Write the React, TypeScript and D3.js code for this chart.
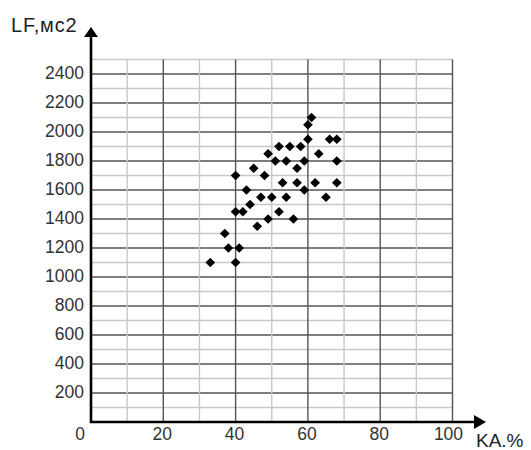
import React from "react";
import * as d3 from "d3";

const kaValues = [61, 60, 60, 66, 68, 52, 55, 58, 49, 63, 51, 54, 59, 68, 45, 57, 40, 48, 53, 57, 62, 68, 43, 59, 47, 50, 54, 65, 44, 40, 42, 52, 49, 56, 46, 37, 38, 41, 33, 40];
const lfValues = [2100, 2050, 1950, 1950, 1950, 1900, 1900, 1900, 1850, 1850, 1800, 1800, 1800, 1800, 1750, 1750, 1700, 1700, 1650, 1650, 1650, 1650, 1600, 1600, 1550, 1550, 1550, 1550, 1500, 1450, 1450, 1450, 1400, 1400, 1350, 1300, 1200, 1200, 1100, 1100];
const yTicks = [200, 400, 600, 800, 1000, 1200, 1400, 1600, 1800, 2000, 2200, 2400];
const xTicks = [20, 40, 60, 80, 100];
const yLabel = "LF,мс2";
const xLabel = "KA.%";

export default function App() {
  const W = 531, H = 450;
  const x = d3.scaleLinear().domain([0, 100]).range([91, 452.5]);
  const y = d3.scaleLinear().domain([0, 2500]).range([422, 59.5]);
  const vLines = d3.range(10, 101, 10);
  const hLines = d3.range(100, 2501, 100);
  const font = "'Liberation Sans', Arial, sans-serif";
  const diamond = d3.symbol().type(d3.symbolDiamond2).size(60)();
  const x0 = x(0), y0 = y(0);
  return (
    <svg width={W} height={H} style={{ position: "absolute", left: 0, top: 0, background: "#fff" }}>
      <rect x={0} y={0} width={W} height={H} fill="#fff" />
      {hLines.map((v) => (
        <line key={"h" + v} x1={x0} x2={x(100)} y1={y(v)} y2={y(v)}
          stroke={v % 200 === 0 ? "#555" : "#c8c8c8"} strokeWidth={1.4} />
      ))}
      {vLines.map((v) => (
        <line key={"v" + v} x1={x(v)} x2={x(v)} y1={y0} y2={y(2500)}
          stroke={v % 20 === 0 ? "#555" : "#c8c8c8"} strokeWidth={1.4} />
      ))}
      {/* axes */}
      <line x1={x0} x2={x0} y1={y0 + 1} y2={36} stroke="#000" strokeWidth={2.6} />
      <path d={`M${x0},27 L${x0 - 7},37 L${x0 + 7},37 Z`} fill="#000" />
      <line x1={x0 - 1} x2={475} y1={y0} y2={y0} stroke="#000" strokeWidth={2.6} />
      <path d={`M486,${y0} L474,${y0 - 7} L474,${y0 + 7} Z`} fill="#000" />
      {yTicks.map((v) => (
        <text key={"yt" + v} x={84} y={y(v)} dy="0.3em" textAnchor="end"
          fontFamily={font} fontSize={17.5} fill="#333">{v}</text>
      ))}
      <text x={85} y={440} textAnchor="end" fontFamily={font} fontSize={17.5} fill="#333">0</text>
      {xTicks.map((v) => (
        <text key={"xt" + v} x={x(v) - (v === 100 ? 4 : 1)} y={440} textAnchor="middle"
          fontFamily={font} fontSize={17.5} fill="#333">{v}</text>
      ))}
      <text x={11} y={32} fontFamily={font} fontSize={20} letterSpacing={0.8} fill="#222">{yLabel}</text>
      <text x={476} y={447} fontFamily={font} fontSize={19} fill="#222">{xLabel}</text>
      {kaValues.map((k, i) => (
        <path key={"p" + i} d={diamond} transform={`translate(${x(k)},${y(lfValues[i])})`} fill="#000" />
      ))}
    </svg>
  );
}
